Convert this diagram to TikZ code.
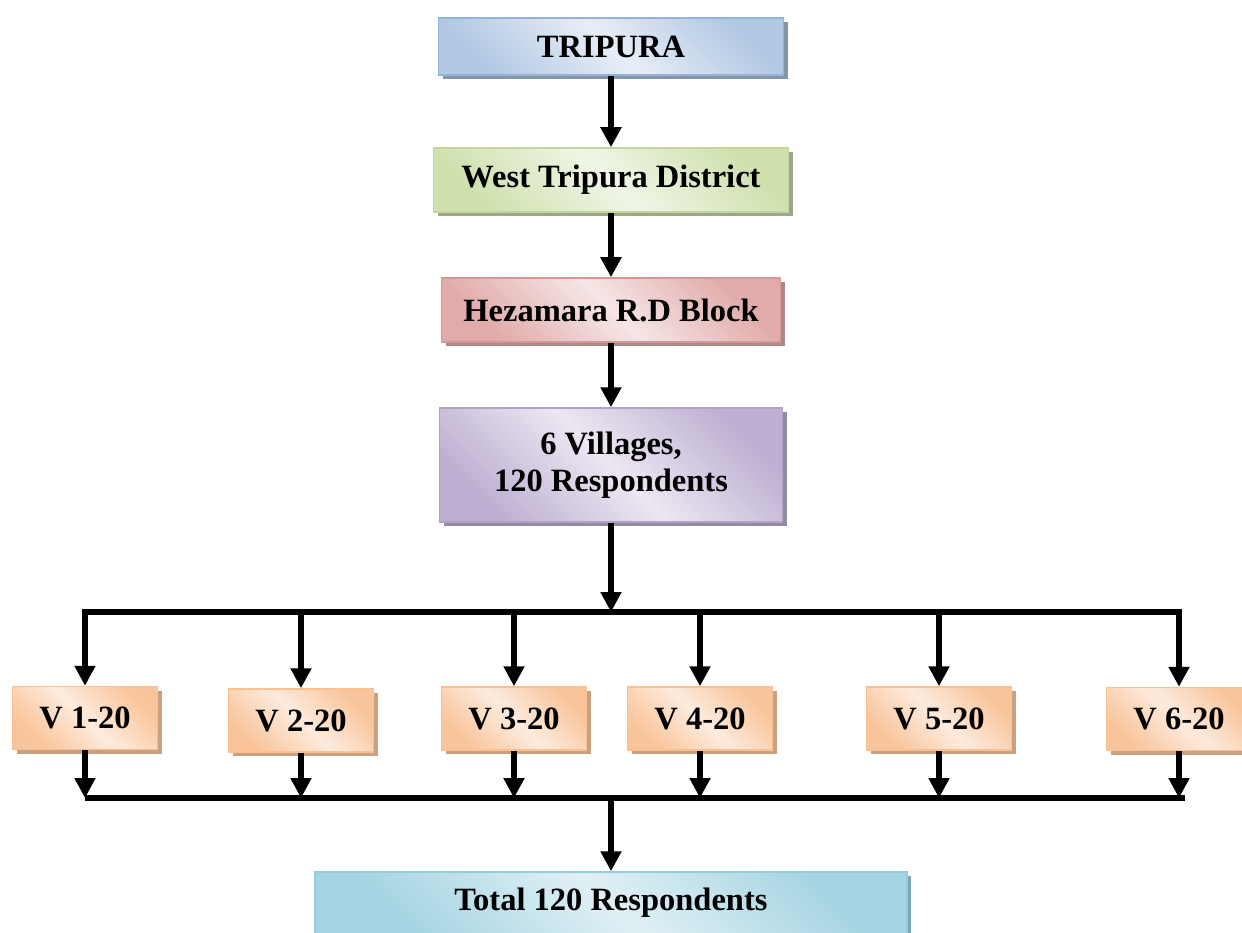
\documentclass[tikz,border=0pt]{standalone}
\usepackage{fontspec}
\setmainfont{Liberation Serif}
\usetikzlibrary{arrows.meta,shadows,calc}
\definecolor{bluD}{HTML}{B2C8E3}\definecolor{bluL}{HTML}{E8EEF7}\definecolor{bluB}{HTML}{95B3D7}\definecolor{bluS}{HTML}{8595AA}
\definecolor{grnD}{HTML}{D0E1AF}\definecolor{grnL}{HTML}{F0F5E6}\definecolor{grnB}{HTML}{C3D69B}\definecolor{grnS}{HTML}{9CA68A}
\definecolor{redD}{HTML}{E0ABAA}\definecolor{redL}{HTML}{F6E6E6}\definecolor{redB}{HTML}{D99694}\definecolor{redS}{HTML}{A88A8A}
\definecolor{purD}{HTML}{BEB0D2}\definecolor{purL}{HTML}{ECE7F2}\definecolor{purB}{HTML}{B3A2C7}\definecolor{purS}{HTML}{958AA3}
\definecolor{orgD}{HTML}{F9C49A}\definecolor{orgL}{HTML}{FDEBDD}\definecolor{orgB}{HTML}{FAC090}\definecolor{orgS}{HTML}{C9A080}
\definecolor{aquD}{HTML}{A5D4E2}\definecolor{aquL}{HTML}{E0F0F5}\definecolor{aquB}{HTML}{93CDDD}\definecolor{aquS}{HTML}{7FA7B2}
\tikzset{
  box/.style args={#1/#2/#3/#4}{draw=#3, line width=1.5pt, left color=#1, right color=#1, middle color=#2, shading angle=135,
    drop shadow={shadow xshift=4pt, shadow yshift=-4pt, fill=#4, opacity=1},
    inner sep=0pt, align=center, font=\fontsize{32.5}{37}\selectfont\bfseries},
  bluebox/.style={box=bluD/bluL/bluB/bluS},
  greenbox/.style={box=grnD/grnL/grnB/grnS},
  redbox/.style={box=redD/redL/redB/redS},
  purplebox/.style={box=purD/purL/purB/purS},
  vbox/.style={box=orgD/orgL/orgB/orgS, minimum width=145pt, minimum height=63pt},
  aquabox/.style={box=aquD/aquL/aquB/aquS},
  arr/.style={line width=6.5pt, -{Triangle[width=20pt,length=20pt]}},
  bus/.style={line width=6.5pt, line cap=rect},
}
\begin{document}
\begin{tikzpicture}[x=1pt,y=-1pt]
\useasboundingbox (0,0) rectangle (1242,933);
\node[bluebox, minimum width=345pt, minimum height=57pt] (T) at (611,46.5) {TRIPURA};
\node[greenbox, minimum width=355pt, minimum height=64pt] (W) at (611,180) {West Tripura District};
\node[redbox, minimum width=339pt, minimum height=64pt] (H) at (611,310) {Hezamara R.D Block};
\node[purplebox, minimum width=343pt, minimum height=114pt] (VL) at (611,465) {6 Villages,\\120 Respondents};
\node[vbox] (V1) at (85,718) {V 1-20};
\node[vbox] (V2) at (301,720.5) {V 2-20};
\node[vbox] (V3) at (514,718.5) {V 3-20};
\node[vbox] (V4) at (700,718.5) {V 4-20};
\node[vbox] (V5) at (939,718.5) {V 5-20};
\node[vbox] (V6) at (1179,719) {V 6-20};
\node[aquabox, minimum width=592pt, minimum height=62pt] (TT) at (611,903) {Total 120 Respondents};

\coordinate (tb) at (611,612);
\coordinate (bb) at (611,798);
\draw[arr] (T.south) -- (W.north);
\draw[arr] (W.south) -- (H.north);
\draw[arr] (H.south) -- (VL.north);
\draw[arr] (VL.south) -- (tb);
\draw[bus] (V1.north |- tb) -- (V6.north |- tb);
\foreach \v in {V1,V2,V3,V4,V5,V6}{
  \draw[arr] (\v.north |- tb) -- (\v.north);
  \draw[arr] (\v.south) -- (\v.south |- bb);
}
\draw[bus] ($(V1.south |- bb)+(3,0)$) -- ($(V6.south |- bb)+(3,0)$);
\draw[arr] (bb) -- (TT.north);
\end{tikzpicture}
\end{document}
